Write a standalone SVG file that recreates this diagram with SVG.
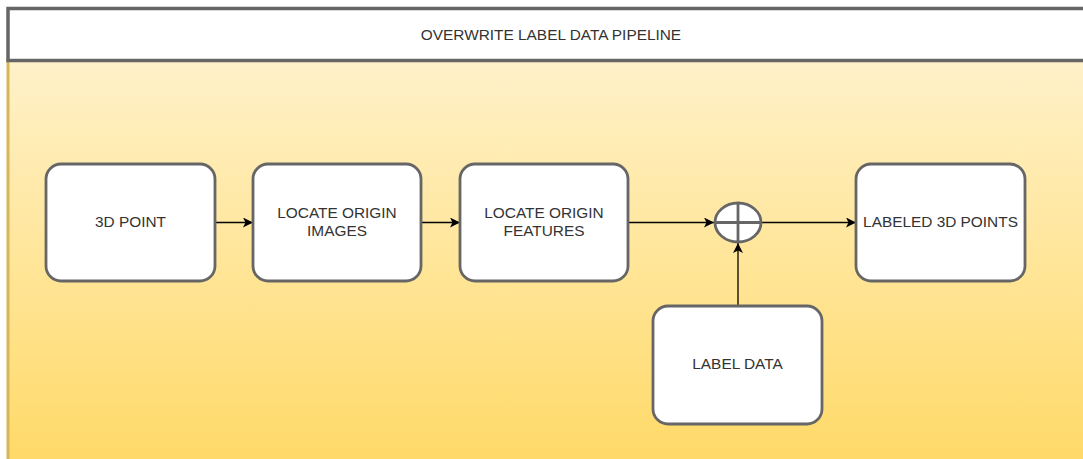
<svg xmlns="http://www.w3.org/2000/svg" width="1083" height="459" viewBox="0 0 1083 459">
  <defs>
    <linearGradient id="bodyGrad" gradientUnits="userSpaceOnUse" x1="0" y1="50" x2="0" y2="470">
      <stop offset="0" stop-color="#fff2cc"/>
      <stop offset="1" stop-color="#ffd966"/>
    </linearGradient>
    <marker id="arrow" viewBox="0 0 10 10" refX="10" refY="5" markerWidth="10" markerHeight="10" markerUnits="userSpaceOnUse" orient="auto">
      <path d="M0,0 L10,5 L0,10 L2.5,5 Z" fill="#000"/>
    </marker>
    <style>
      .node { fill: #ffffff; stroke: #666666; stroke-width: 2.8; }
      .lbl { font-family: "Liberation Sans", Arial, sans-serif; font-size: 15.4px; fill: #333333; text-anchor: middle; }
      .edge { stroke: #000000; stroke-width: 1.3; fill: none; marker-end: url(#arrow); }
    </style>
  </defs>

  <g id="container">
    <rect x="8" y="60" width="1090" height="420" fill="url(#bodyGrad)" stroke="#d6b656" stroke-width="3"/>
    <rect x="8" y="8.5" width="1090" height="52" fill="#ffffff" stroke="#666666" stroke-width="3.5"/>
    <text class="lbl" x="551" y="40">OVERWRITE LABEL DATA PIPELINE</text>
  </g>

  <g id="connectors">
    <line class="edge" x1="215" y1="222.5" x2="253" y2="222.5"/>
    <line class="edge" x1="421" y1="222.5" x2="460" y2="222.5"/>
    <line class="edge" x1="628" y1="222.5" x2="714" y2="222.5"/>
    <line class="edge" x1="762" y1="222.5" x2="856" y2="222.5"/>
    <line class="edge" x1="738" y1="306" x2="738" y2="243"/>
  </g>

  <g id="node-3d-point">
    <rect class="node" x="46" y="164" width="169" height="117" rx="15" ry="15"/>
    <text class="lbl" x="130.5" y="227">3D POINT</text>
  </g>

  <g id="node-locate-origin-images">
    <rect class="node" x="253" y="164" width="168" height="117" rx="15" ry="15"/>
    <text class="lbl" x="337" y="218">LOCATE ORIGIN</text>
    <text class="lbl" x="337" y="236">IMAGES</text>
  </g>

  <g id="node-locate-origin-features">
    <rect class="node" x="460" y="164" width="168" height="117" rx="15" ry="15"/>
    <text class="lbl" x="544" y="218">LOCATE ORIGIN</text>
    <text class="lbl" x="544" y="236">FEATURES</text>
  </g>

  <g id="node-sum">
    <ellipse class="node" cx="738" cy="222.5" rx="23" ry="19.5"/>
    <line x1="715" y1="222.5" x2="761" y2="222.5" stroke="#666666" stroke-width="2.8"/>
    <line x1="738" y1="203" x2="738" y2="242" stroke="#666666" stroke-width="2.8"/>
  </g>

  <g id="node-labeled-3d-points">
    <rect class="node" x="856" y="164" width="169" height="117" rx="15" ry="15"/>
    <text class="lbl" x="940.5" y="227">LABELED 3D POINTS</text>
  </g>

  <g id="node-label-data">
    <rect class="node" x="653" y="306" width="169" height="118" rx="15" ry="15"/>
    <text class="lbl" x="737.5" y="369">LABEL DATA</text>
  </g>
</svg>
